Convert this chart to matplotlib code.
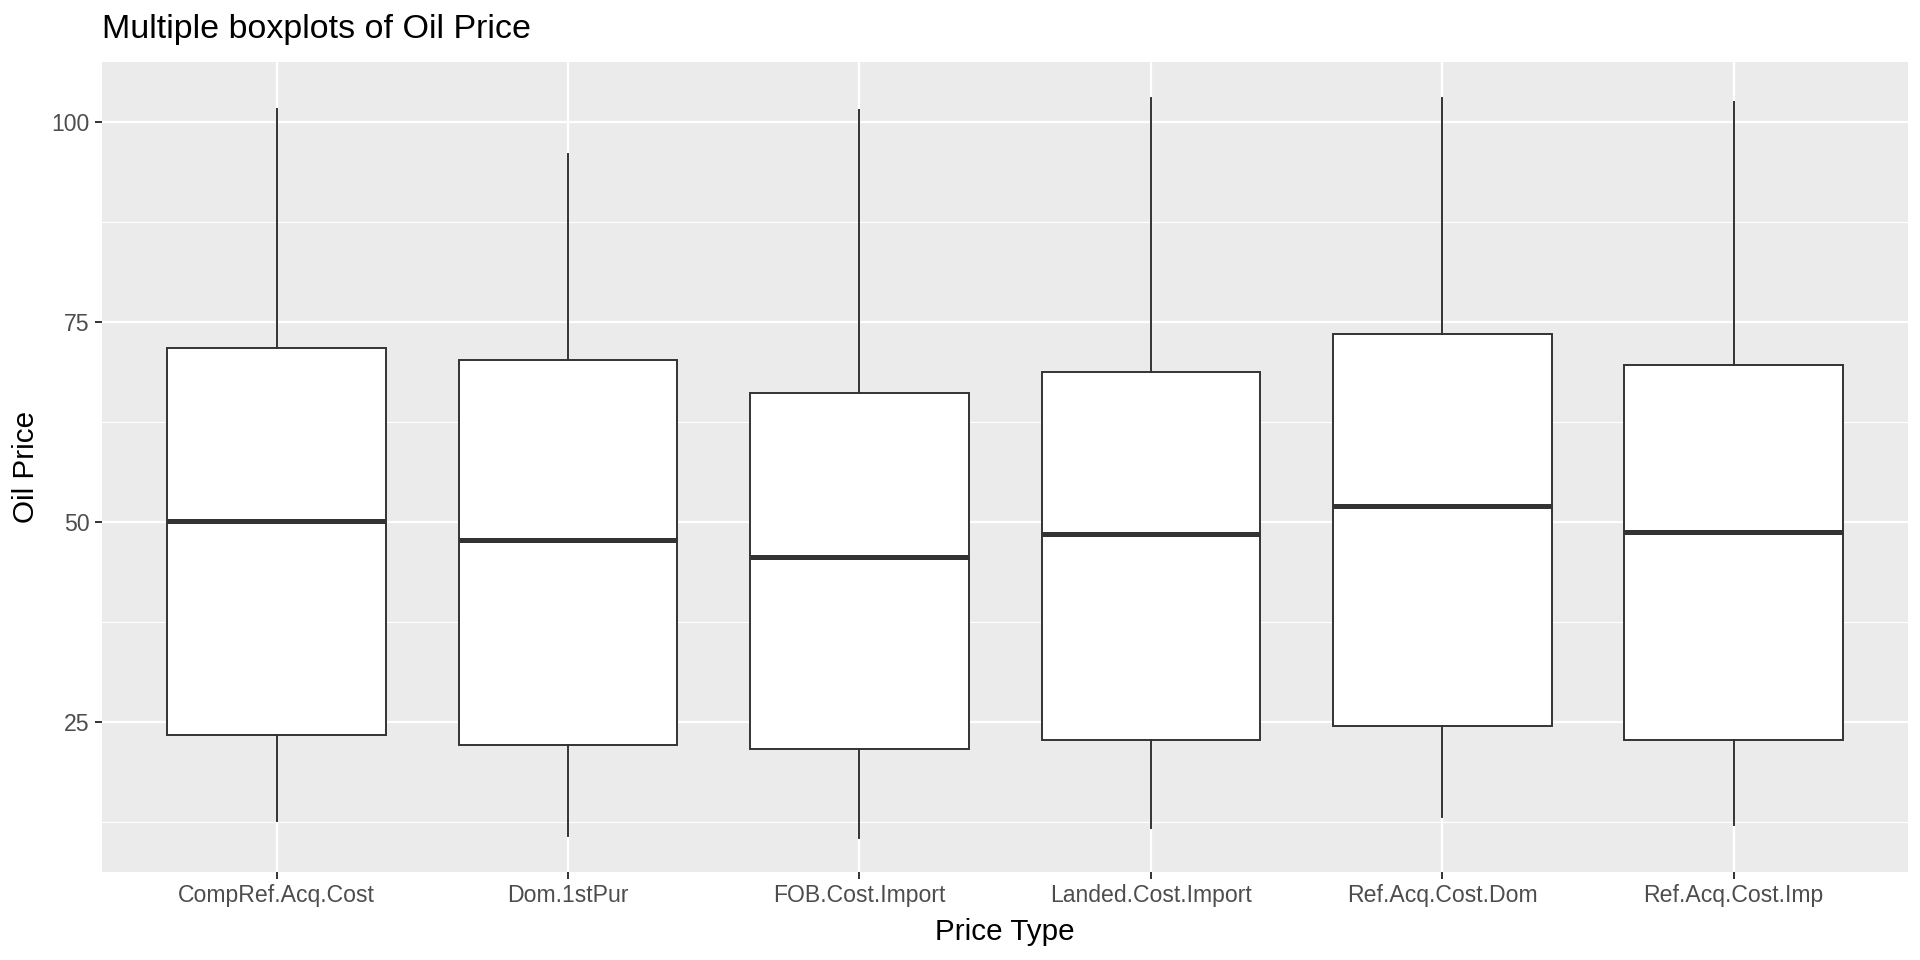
import numpy as np
import matplotlib
matplotlib.use("Agg")
import matplotlib.pyplot as plt
from matplotlib.ticker import MultipleLocator

plt.rcParams['font.family'] = ['Liberation Sans', 'DejaVu Sans']

# values
price_types = ["CompRef.Acq.Cost", "Dom.1stPur", "FOB.Cost.Import",
               "Landed.Cost.Import", "Ref.Acq.Cost.Dom", "Ref.Acq.Cost.Imp"]
whisk_low = [12.6, 10.7, 10.5, 11.8, 13.2, 12.1]
q1 = [23.4, 22.2, 21.6, 22.8, 24.5, 22.8]
median = [50.2, 47.8, 45.7, 48.5, 52.0, 48.8]
q3 = [71.8, 70.3, 66.1, 68.8, 73.5, 69.7]
whisk_high = [101.7, 96.1, 101.6, 103.0, 103.0, 102.5]

stats = []
for i, name in enumerate(price_types):
	stats.append(dict(label=name, whislo=whisk_low[i], q1=q1[i], med=median[i],
	                  q3=q3[i], whishi=whisk_high[i], fliers=[]))

fig = plt.figure(figsize=(19.2, 9.6), dpi=100)
ax = fig.add_axes([0.053, 0.092, 0.941, 0.843])
ax.set_facecolor("#EBEBEB")
for s in ax.spines.values():
	s.set_visible(False)

line = "#333333"
pos = np.arange(1, len(price_types) + 1)
ax.bxp(stats, positions=pos, widths=0.75, showcaps=False, patch_artist=True,
       boxprops=dict(facecolor="white", edgecolor=line, linewidth=1.4),
       whiskerprops=dict(color=line, linewidth=1.4),
       medianprops=dict(color=line, linewidth=3.6, solid_capstyle="butt"),
       zorder=3)

ax.set_xlim(0.4, 6.6)
ax.set_ylim(6.3, 107.5)
ax.yaxis.set_major_locator(MultipleLocator(25))
ax.yaxis.set_minor_locator(MultipleLocator(12.5))
ax.set_xticks(pos)
ax.set_xticklabels(price_types)

ax.grid(which="major", color="white", linewidth=1.6, zorder=0)
ax.grid(which="minor", axis="y", color="white", linewidth=0.8, zorder=0)
ax.set_axisbelow(True)
ax.tick_params(which="major", length=5, width=1.4, color=line,
               labelsize=16.6, labelcolor="#4D4D4D", pad=4)
ax.tick_params(which="minor", length=0)

ax.set_xlabel("Price Type", fontsize=21.3, color="black", labelpad=8)
ax.set_ylabel("Oil Price", fontsize=21.3, color="black", labelpad=8)
fig.text(0.053, 0.969, "Multiple boxplots of Oil Price", fontsize=24.5,
         ha="left", va="center", color="black")

fig.savefig("out.png", dpi=100)
